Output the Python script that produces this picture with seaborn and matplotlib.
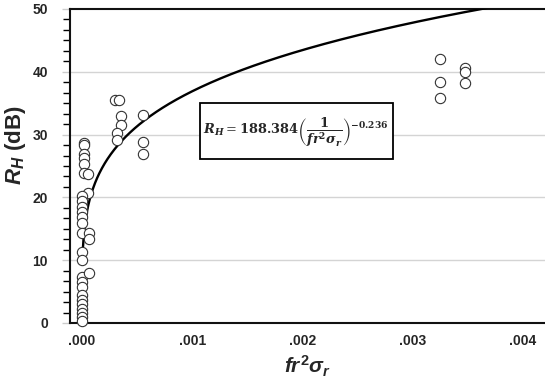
import numpy as np
import pandas as pd
import matplotlib
matplotlib.use("Agg")
import matplotlib.pyplot as plt
import seaborn as sns
from matplotlib.patches import Rectangle
from matplotlib.ticker import MultipleLocator, FuncFormatter, FixedLocator

# ---- data ----
x_vals = ([0.00002] * 6 + [0.00005] * 2 + [0.0] * 19 + [0.00006] * 3 +
          [0.00030, 0.00034, 0.00035, 0.00035, 0.00032, 0.00032] +
          [0.000555] * 3 + [0.00325] * 3 + [0.00347] * 3)
y_vals = ([28.6, 28.3, 26.9, 26.3, 25.3, 23.9] + [23.7, 20.7] +
          [20.2, 19.4, 18.5, 17.6, 16.8, 16.0, 14.4, 11.3, 10.1, 7.3, 6.5, 5.7,
           4.4, 3.7, 3.0, 2.3, 1.6, 0.9, 0.3] +
          [14.3, 13.4, 7.9] +
          [35.5, 35.5, 33.0, 31.6, 30.3, 29.2] +
          [33.1, 28.9, 26.9] + [42.0, 38.4, 35.8] + [40.6, 39.9, 38.2])

# fitted model shown in the chart: R_H = a * (1/x)^b
coef_a = 188.384
coef_b = -0.236
curve_x = np.linspace(0.0000086, 0.0037, 600)
curve_y = coef_a * (1.0 / curve_x) ** coef_b

x_ticks = [0.0, 0.001, 0.002, 0.003, 0.004]
y_ticks = [0, 10, 20, 30, 40, 50]

pts = pd.DataFrame({"x": x_vals, "y": y_vals})
crv = pd.DataFrame({"x": curve_x, "y": curve_y})

sns.set_theme(style="white")
plt.rcParams["font.family"] = ["Liberation Sans", "DejaVu Sans"]
plt.rcParams["mathtext.fontset"] = "custom"
plt.rcParams["mathtext.rm"] = "Liberation Sans:bold"
plt.rcParams["mathtext.it"] = "Liberation Sans:bold:italic"
plt.rcParams["mathtext.bf"] = "Liberation Sans:bold"

fig = plt.figure(figsize=(5.45, 3.83), dpi=100)
ax = fig.add_axes([70 / 545, 1 - 323 / 383, 1 - 70 / 545, (323 - 9) / 383])

ax.set_xlim(-0.000109, 0.0042)
ax.set_ylim(0, 50)

for g in [10, 20, 30, 40]:
    ax.axhline(g, color="#d4d4d4", lw=1.0, zorder=0)

sns.lineplot(data=crv, x="x", y="y", ax=ax, color="black", lw=1.7, zorder=3)
sns.scatterplot(data=pts, x="x", y="y", ax=ax, s=55, facecolor="white",
                edgecolor="#333333", linewidth=0.8, zorder=4, clip_on=False)

# equation box (annotation frame)
ax.add_patch(Rectangle((0.001070, 26.1), 0.00175, 8.9, facecolor="white",
                       edgecolor="black", linewidth=1.3, zorder=5))
eq = r"$\mathbfit{R_H}=\mathbf{188.384}\left(\dfrac{\mathbf{1}}{\mathbfit{fr}^{\mathbf{2}}\mathbfit{\sigma_r}}\right)^{\mathbf{-0.236}}$"
ax.text(0.001100, 30.4, eq, ha="left", va="center", fontsize=9.4,
        math_fontfamily="dejavuserif", zorder=6)

ax.xaxis.set_major_locator(FixedLocator(x_ticks))
ax.xaxis.set_major_formatter(FuncFormatter(lambda v, p: f"{v:.3f}".lstrip("0") if v >= 0 else ""))
ax.yaxis.set_major_locator(FixedLocator(y_ticks))
ax.yaxis.set_minor_locator(MultipleLocator(10 / 6))
ax.tick_params(axis="x", which="both", length=0, pad=8, labelsize=10)
ax.tick_params(axis="y", which="major", length=6, width=1, color="#cccccc",
               direction="out", left=True, pad=10, labelsize=10)
ax.tick_params(axis="y", which="minor", length=5, width=1, color="black",
               direction="out", left=True)
for lab in ax.get_xticklabels() + ax.get_yticklabels():
    lab.set_fontweight("bold")

for s in ["left", "bottom", "top"]:
    ax.spines[s].set_visible(True)
    ax.spines[s].set_color("#111111")
    ax.spines[s].set_linewidth(1.5)
ax.spines["right"].set_visible(False)

ax.set_xlabel(r"$fr^2\sigma_r$", fontsize=15, labelpad=4)
ax.set_ylabel(r"$R_H$ (dB)", fontsize=16, fontweight="bold")
ax.yaxis.set_label_coords(-0.088, 0.565)

fig.savefig("out.png", dpi=100)
